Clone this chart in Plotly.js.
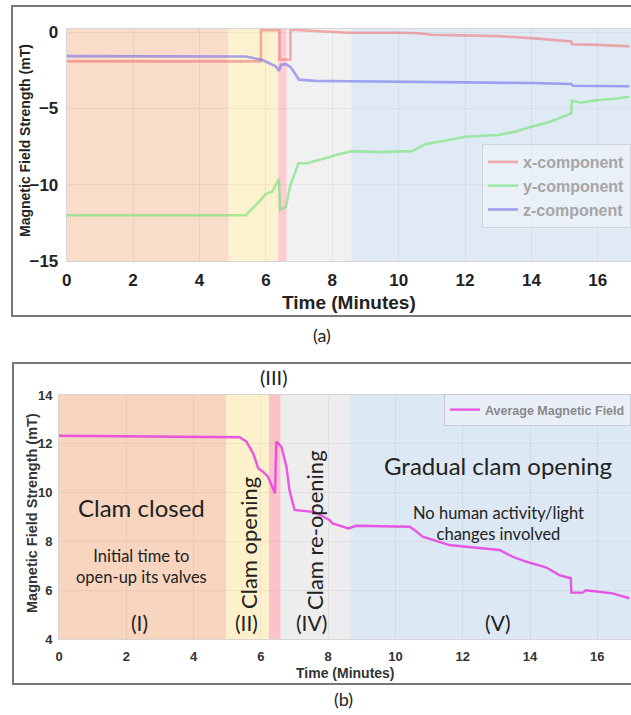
<!DOCTYPE html>
<html>
<head>
<meta charset="utf-8">
<script src="https://cdn.plot.ly/plotly-3.0.1.min.js"></script>
<style>
html,body{margin:0;padding:0;background:#fff;}
#chart{width:631px;height:715px;}
</style>
</head>
<body>
<div id="chart"></div>
<script>
// ---------- Panel (a): components ----------
const tX = [0, 5.85, 5.85, 6.41, 6.41, 6.74, 6.74, 7.5, 8.5, 10, 10.6, 11, 12, 13, 14, 14.5, 15.2, 15.22, 15.5, 16, 16.95];
const xComp = [-1.92, -1.92, 0.12, 0.12, -1.8, -1.8, 0.15, 0.05, -0.05, -0.05, -0.08, -0.18, -0.22, -0.27, -0.4, -0.5, -0.62, -0.8, -0.8, -0.84, -0.94];

const tY = [0, 5.4, 5.8, 6.0, 6.2, 6.39, 6.43, 6.6, 6.73, 6.98, 7.25, 7.6, 8.2, 8.6, 9.4, 10.4, 10.8, 11.5, 12, 13, 13.5, 14, 14.5, 15.2, 15.22, 15.5, 16, 16.5, 16.95];
const yComp = [-12, -12, -11.1, -10.6, -10.45, -9.6, -11.65, -11.45, -10.1, -8.6, -8.6, -8.38, -8.0, -7.8, -7.87, -7.8, -7.35, -7.07, -6.86, -6.75, -6.53, -6.2, -5.92, -5.33, -4.5, -4.63, -4.45, -4.37, -4.24];

const tZ = [0, 5.4, 5.9, 6.3, 6.4, 6.45, 6.6, 6.75, 7.0, 7.5, 8.5, 10, 12, 14, 15.2, 15.25, 16.95];
const zComp = [-1.58, -1.6, -1.83, -2.25, -2.55, -2.15, -2.1, -2.3, -3.12, -3.2, -3.22, -3.27, -3.3, -3.34, -3.4, -3.52, -3.55];

const compNames = ['x-component', 'y-component', 'z-component'];
const compColors = ['rgba(238,110,110,0.55)', 'rgba(110,226,110,0.6)', 'rgba(110,110,236,0.6)'];

const phaseEdgesA = [0, 4.88, 6.37, 6.63, 8.57, 17];
const phaseColorsA = ['#f9dcc9', '#fdf2cf', '#fbcdd2', '#f1f1f1', '#e0eaf5'];

const xTicksA = [0, 2, 4, 6, 8, 10, 12, 14, 16];
const yTicksA = [0, -5, -10, -15];

// ---------- Panel (b): average field ----------
const tAvg = [0, 5.37, 5.57, 5.77, 5.92, 6.06, 6.21, 6.42, 6.46, 6.61, 6.76, 6.85, 7.0, 7.6, 8.04, 8.13, 8.6, 8.83, 10.42, 10.56, 10.81, 11.11, 11.6, 12.1, 13.09, 13.48, 13.88, 14.47, 14.87, 15.21, 15.23, 15.56, 15.66, 16.45, 16.95];
const avgField = [12.33, 12.27, 12.09, 11.61, 11.0, 10.86, 10.65, 9.97, 12.09, 11.88, 11.06, 10.1, 9.29, 9.2, 8.88, 8.74, 8.53, 8.64, 8.6, 8.47, 8.19, 8.06, 7.85, 7.78, 7.65, 7.37, 7.17, 6.94, 6.62, 6.49, 5.9, 5.9, 6.0, 5.87, 5.67];

const phaseEdgesB = [0, 4.98, 6.24, 6.59, 8.63, 17];
const phaseColorsB = ['#f7d5bf', '#fdf1cb', '#f9c3c8', '#ededed', '#dce8f4'];

const xTicksB = [0, 2, 4, 6, 8, 10, 12, 14, 16];
const yTicksB = [4, 6, 8, 10, 12, 14];

// ---------- layout helpers (pixel -> paper) ----------
const W = 631, H = 715;
const px = v => v / W;
const py = v => 1 - v / H;

const traces = [];
const compT = [tX, tY, tZ];
const compV = [xComp, yComp, zComp];
for (let i = 0; i < 3; i++) {
  traces.push({
    x: compT[i], y: compV[i], type: 'scatter', mode: 'lines',
    name: compNames[i], xaxis: 'x', yaxis: 'y', legend: 'legend',
    line: {color: compColors[i], width: 2.6}
  });
}
traces.push({
  x: tAvg, y: avgField, type: 'scatter', mode: 'lines',
  name: 'Average Magnetic Field', xaxis: 'x2', yaxis: 'y2', legend: 'legend2',
  line: {color: 'rgba(232,60,224,0.85)', width: 2.4}
});

const shapes = [];
for (let i = 0; i < phaseColorsA.length; i++) {
  shapes.push({type: 'rect', xref: 'x', yref: 'y domain', x0: phaseEdgesA[i], x1: phaseEdgesA[i + 1], y0: 0, y1: 1,
    fillcolor: phaseColorsA[i], line: {width: 0}, layer: 'below'});
}
for (let i = 0; i < phaseColorsB.length; i++) {
  shapes.push({type: 'rect', xref: 'x2', yref: 'y2 domain', x0: phaseEdgesB[i], x1: phaseEdgesB[i + 1], y0: 0, y1: 1,
    fillcolor: phaseColorsB[i], line: {width: 0}, layer: 'below'});
}
// panel frames
shapes.push({type: 'rect', xref: 'paper', yref: 'paper', x0: px(12), x1: px(640), y0: py(316), y1: py(6),
  line: {color: '#777', width: 2}, fillcolor: 'rgba(0,0,0,0)'});
shapes.push({type: 'rect', xref: 'paper', yref: 'paper', x0: px(13), x1: px(640), y0: py(684), y1: py(363),
  line: {color: '#777', width: 2}, fillcolor: 'rgba(0,0,0,0)'});

const bold = {family: 'Liberation Sans, Arial, sans-serif', weight: 'bold'};
const txt = 'Lato, Noto Sans, sans-serif';

function note(text, x, y, size, opts) {
  return Object.assign({text: text, xref: 'paper', yref: 'paper', x: px(x), y: py(y),
    xanchor: 'center', yanchor: 'middle', showarrow: false,
    font: {family: txt, size: size, color: '#222'}}, opts || {});
}

const annotations = [
  note('(a)', 322, 335, 18),
  note('(b)', 343, 699, 18),
  note('Time (Minutes)', 349, 303, 19, {font: Object.assign({size: 19, color: '#222'}, bold)}),
  note('Magnetic Field Strength (mT)', 25, 141, 14, {textangle: -90, font: Object.assign({size: 14, color: '#222'}, bold)}),
  note('Time (Minutes)', 345, 673, 14, {font: Object.assign({size: 14, color: '#333'}, bold)}),
  note('Magnetic Field Strength (mT)', 32, 513, 14.5, {textangle: -90, font: Object.assign({size: 14.5, color: '#333'}, bold)}),
  // phase annotations
  note('(III)', 273, 377, 20),
  note('Clam closed', 141, 507, 24),
  note('Initial time to<br>open-up its valves', 141, 566, 16.5),
  note('(I)', 139, 622, 21),
  note('Clam opening', 248, 543, 22, {textangle: -90}),
  note('(II)', 246, 622, 21),
  note('Clam re-opening', 314, 530, 22, {textangle: -90}),
  note('(IV)', 311, 622, 21),
  note('Gradual clam opening', 498, 465, 24),
  note('No human activity/light<br>changes involved', 498, 523, 16.5),
  note('(V)', 498, 622, 21)
];

const gridc = 'rgba(0,0,0,0.05)';
const layout = {
  width: W, height: H,
  margin: {l: 0, r: 0, t: 0, b: 0},
  paper_bgcolor: '#fff', plot_bgcolor: '#fff',
  showlegend: true,
  xaxis: {domain: [px(66.7), 1], range: [0, 17], tickvals: xTicksA, showgrid: true, gridcolor: gridc, zeroline: false,
    showline: true, mirror: true, linecolor: '#d6d6d6', linewidth: 1, ticks: '', ticklabelstandoff: 4,
    tickfont: Object.assign({size: 17, color: '#222'}, bold), anchor: 'y', fixedrange: true},
  yaxis: {domain: [py(261), py(29)], range: [-15, 0.2], tickvals: yTicksA, showgrid: true, gridcolor: gridc, zeroline: false,
    showline: true, mirror: true, linecolor: '#d6d6d6', linewidth: 1, ticks: '', ticklabelstandoff: 4,
    tickfont: Object.assign({size: 17, color: '#222'}, bold), anchor: 'x', fixedrange: true},
  xaxis2: {domain: [px(59), 1], range: [0, 17], tickvals: xTicksB, showgrid: true, gridcolor: gridc, zeroline: false,
    showline: true, mirror: true, linecolor: '#d6d6d6', linewidth: 1, ticks: '', ticklabelstandoff: 5,
    tickfont: Object.assign({size: 13, color: '#333'}, bold), anchor: 'y2', fixedrange: true},
  yaxis2: {domain: [py(639), py(395)], range: [4, 14], tickvals: yTicksB, showgrid: true, gridcolor: gridc, zeroline: false,
    showline: true, mirror: true, linecolor: '#d6d6d6', linewidth: 1, ticks: '', ticklabelstandoff: 3,
    tickfont: Object.assign({size: 13, color: '#333'}, bold), anchor: 'x2', fixedrange: true},
  legend: {x: 1, xanchor: 'right', y: py(144), yanchor: 'top', bgcolor: 'rgba(236,242,250,0.7)', bordercolor: '#d0d4da', borderwidth: 1,
    font: Object.assign({size: 16, color: '#a6a6a6'}, bold), itemwidth: 30, tracegroupgap: 0},
  legend2: {x: 1, xanchor: 'right', y: py(394), yanchor: 'top', bgcolor: 'rgba(236,242,250,0.7)', bordercolor: '#c8ccd2', borderwidth: 1,
    font: Object.assign({size: 12.5, color: '#8a8a8a'}, bold), itemwidth: 30},
  shapes: shapes,
  annotations: annotations
};

Plotly.newPlot('chart', traces, layout, {displayModeBar: false, staticPlot: true});
</script>
</body>
</html>
